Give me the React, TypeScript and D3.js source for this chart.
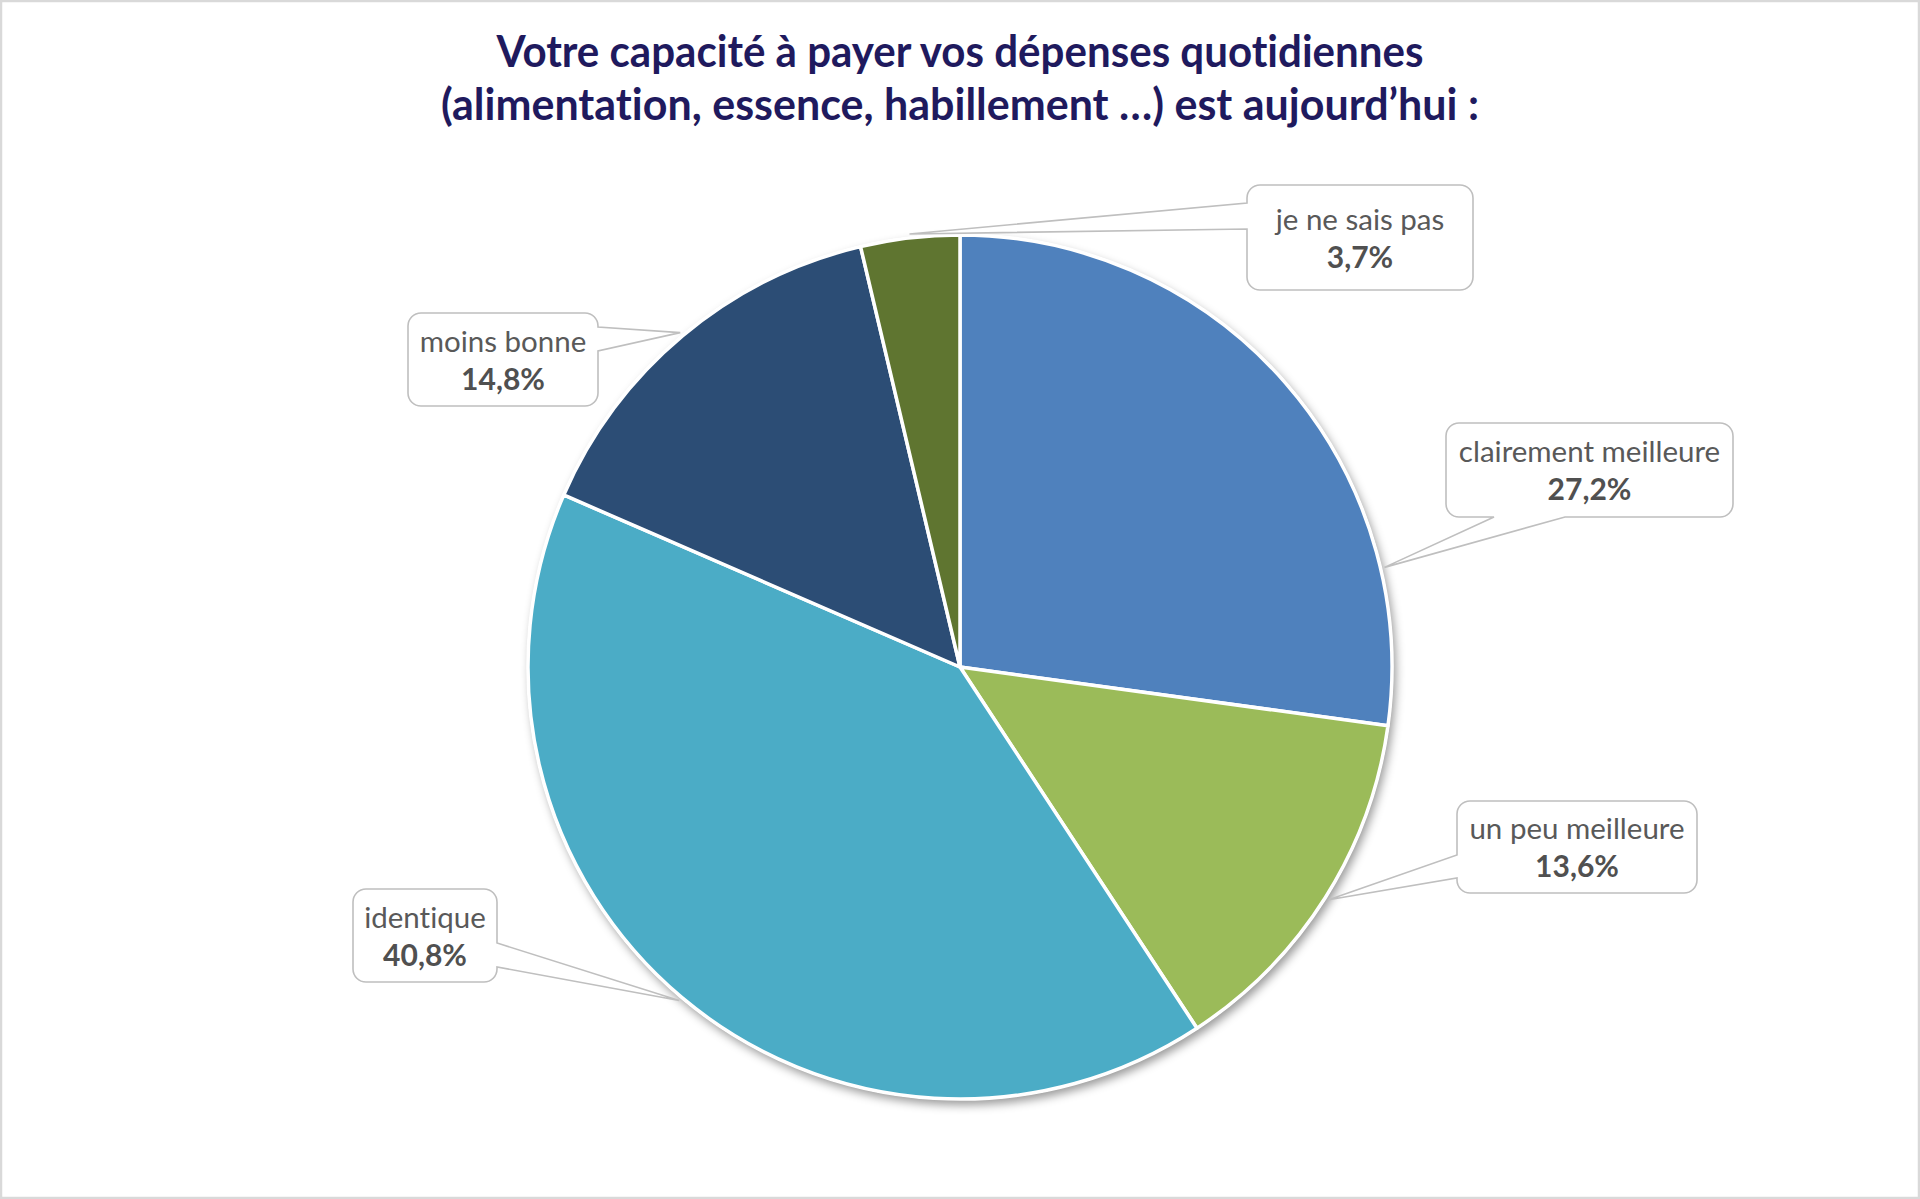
import * as d3 from "d3";

// survey answers, clockwise from 12 o'clock
const categories = [
  "clairement meilleure",
  "un peu meilleure",
  "identique",
  "moins bonne",
  "je ne sais pas",
];
const values = [27.2, 13.6, 40.8, 14.8, 3.7];
const colors = ["#4F81BD", "#9BBB59", "#4BACC6", "#2C4D75", "#5F7530"];

const titleLines = [
  "Votre capacité à payer vos dépenses quotidiennes",
  "(alimentation, essence, habillement …) est aujourd’hui :",
];

// callout boxes placement (annotation layout)
type Side = "left" | "right" | "bottom" | "top";
const callouts: { x: number; y: number; w: number; h: number; side: Side; b: [number, number]; tip: number }[] = [
  { x: 1446, y: 423, w: 287, h: 94, side: "bottom", b: [48, 119], tip: 0.785 },
  { x: 1457, y: 801, w: 240, h: 92, side: "left", b: [54, 77], tip: 0.5 },
  { x: 353, y: 889, w: 144, h: 93, side: "right", b: [54, 78], tip: 0.5 },
  { x: 408, y: 313, w: 190, h: 93, side: "right", b: [14, 38], tip: 0.5 },
  { x: 1247, y: 185, w: 226, h: 105, side: "left", b: [18, 44], tip: 0.5 },
];

const W = 1920;
const H = 1199;
const cx = 960;
const cy = 667;
const radius = 432;

const fmt = (v: number) => d3.format(".1f")(v).replace(".", ",") + "%";

const noLig = { fontVariantLigatures: "none", fontFeatureSettings: "'liga' 0, 'clig' 0" } as const;

function calloutPath(
  c: (typeof callouts)[number],
  tx: number,
  ty: number
) {
  const { x, y, w, h, side, b } = c;
  const r = 13;
  const p = d3.path();
  p.moveTo(x + r, y);
  if (side === "top") {
    p.lineTo(x + b[0], y);
    p.lineTo(tx, ty);
    p.lineTo(x + b[1], y);
  }
  p.lineTo(x + w - r, y);
  p.arcTo(x + w, y, x + w, y + r, r);
  if (side === "right") {
    p.lineTo(x + w, y + b[0]);
    p.lineTo(tx, ty);
    p.lineTo(x + w, y + b[1]);
  }
  p.lineTo(x + w, y + h - r);
  p.arcTo(x + w, y + h, x + w - r, y + h, r);
  if (side === "bottom") {
    p.lineTo(x + b[1], y + h);
    p.lineTo(tx, ty);
    p.lineTo(x + b[0], y + h);
  }
  p.lineTo(x + r, y + h);
  p.arcTo(x, y + h, x, y + h - r, r);
  if (side === "left") {
    p.lineTo(x, y + b[1]);
    p.lineTo(tx, ty);
    p.lineTo(x, y + b[0]);
  }
  p.lineTo(x, y + r);
  p.arcTo(x, y, x + r, y, r);
  p.closePath();
  return p.toString();
}

export default function App() {
  const pie = d3
    .pie<number>()
    .sort(null)
    .value((d) => d)(values);

  const arc = d3
    .arc<d3.PieArcDatum<number>>()
    .innerRadius(0)
    .outerRadius(radius);

  return (
    <svg
      width={W}
      height={H}
      style={{ position: "absolute", left: 0, top: 0, background: "#fff" }}
    >
      <defs>
        <filter id="pieShadow" x="-20%" y="-20%" width="140%" height="140%">
          <feDropShadow dx="3" dy="5" stdDeviation="5" floodColor="#000" floodOpacity="0.4" />
        </filter>
      </defs>
      <rect x={1} y={1} width={W - 2} height={H - 2} fill="#fff" stroke="#D9D9D9" strokeWidth={2.5} />

      <g fontFamily="Lato, 'Open Sans', sans-serif" fontWeight="bold" fill="#1F1A5E" textAnchor="middle" style={noLig}>
        <text x={cx} y={67} fontSize={43} textLength={927} lengthAdjust="spacingAndGlyphs">
          {titleLines[0]}
        </text>
        <text x={cx} y={120} fontSize={43} textLength={1038} lengthAdjust="spacingAndGlyphs">
          {titleLines[1]}
        </text>
      </g>

      <g transform={`translate(${cx},${cy})`}>
        <circle r={radius + 1} fill="#fff" filter="url(#pieShadow)" />
        {pie.map((d, i) => (
          <path
            key={categories[i]}
            d={arc(d) ?? ""}
            fill={colors[i]}
            stroke="#fff"
            strokeWidth={3.5}
            strokeLinejoin="round"
          />
        ))}
      </g>

      {pie.map((d, i) => {
        const c = callouts[i];
        const a = d.startAngle + (d.endAngle - d.startAngle) * c.tip;
        const tr = radius + 4;
        const tx = cx + tr * Math.sin(a);
        const ty = cy - tr * Math.cos(a);
        const mx = c.x + c.w / 2;
        const my = c.y + c.h / 2;
        return (
          <g key={categories[i]} style={noLig}>
            <path d={calloutPath(c, tx, ty)} fill="#fff" stroke="#BFBFBF" strokeWidth={1.6} />
            <text
              x={mx}
              y={my - 8}
              textAnchor="middle"
              fontFamily="Lato, 'Open Sans', sans-serif"
              fontSize={29.5}
              fill="#595959"
            >
              {categories[i]}
            </text>
            <text
              x={mx}
              y={my + 30}
              textAnchor="middle"
              fontFamily="Lato, 'Open Sans', sans-serif"
              fontSize={30}
              fontWeight="bold"
              fill="#505050"
            >
              {fmt(values[i])}
            </text>
          </g>
        );
      })}
    </svg>
  );
}
